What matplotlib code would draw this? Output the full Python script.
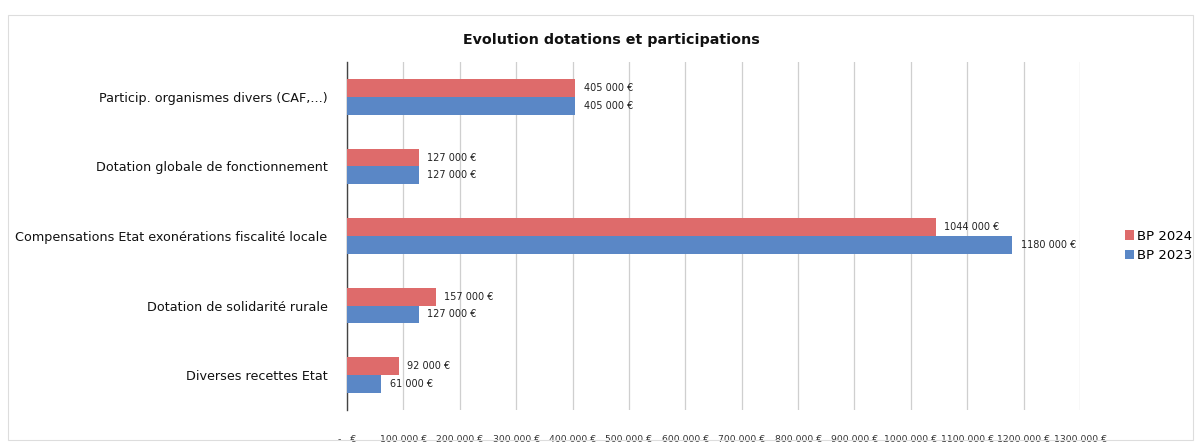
import matplotlib
matplotlib.use("Agg")
import matplotlib.pyplot as plt
import numpy as np

categories = ["Particip. organismes divers (CAF,...)",
              "Dotation globale de fonctionnement",
              "Compensations Etat exonérations fiscalité locale",
              "Dotation de solidarité rurale",
              "Diverses recettes Etat"]
bp2024 = [405000, 127000, 1044000, 157000, 92000]
bp2023 = [405000, 127000, 1180000, 127000, 61000]
xticks = list(range(0, 1300001, 100000))

def lab(v):
    s = f"{v:,}".replace(",", " ")
    if v >= 1000000:
        s = s.replace(" ", "", 1)
    return s + " €"

def fmt(v):
    if v == 0:
        return "-   €"
    return lab(v)

c24 = "#DE6B6B"
c23 = "#5A87C6"

fig = plt.figure(figsize=(11.98, 4.43), dpi=100)
ax = fig.add_axes([347/1198, 1 - 410/443, (1080-347)/1198, (410-62)/443])

n = len(categories)
y = np.arange(n)
h = 0.255
ax.barh(y - h/2, bp2024, height=h, color=c24, label="BP 2024", zorder=3)
ax.barh(y + h/2, bp2023, height=h, color=c23, label="BP 2023", zorder=3)

for i in range(n):
    ax.text(bp2024[i] + 15000, y[i] - h/2, lab(bp2024[i]), va="center", ha="left",
            fontsize=7, color="#222222", zorder=4)
    ax.text(bp2023[i] + 15000, y[i] + h/2, lab(bp2023[i]), va="center", ha="left",
            fontsize=7, color="#222222", zorder=4)

ax.set_ylim(n - 0.5, -0.5)
ax.set_xlim(0, 1300000)
ax.set_yticks(y)
ax.set_yticklabels(categories, fontsize=9.2, color="#111111")
ax.set_xticks(xticks)
ax.set_xticklabels([fmt(v) for v in xticks], fontsize=6.7, color="#333333")
ax.tick_params(axis="both", length=0)
ax.tick_params(axis="y", pad=14)
ax.tick_params(axis="x", pad=18)
ax.grid(axis="x", color="#CFCFCF", linewidth=0.9, zorder=0)
for s in ["top", "right", "bottom"]:
    ax.spines[s].set_visible(False)
ax.spines["left"].set_color("#444444")
ax.spines["left"].set_linewidth(1.0)

fig.text(611/1198, 1 - 40/443, "Evolution dotations et participations", ha="center",
         va="center", fontsize=10.3, fontweight="bold", color="#111111")

handles, labels = ax.get_legend_handles_labels()
fig.legend(handles, labels, loc="center left", bbox_to_anchor=(1113/1198, 1 - 246/443),
           frameon=False, fontsize=9.5, handlelength=0.7, handleheight=0.7,
           handletextpad=0.2, labelspacing=0.5)

# outer chart frame
fig.add_artist(plt.Rectangle((8/1198, 1 - 440/443), 1185/1198, 425/443,
                             transform=fig.transFigure, fill=False,
                             edgecolor="#DDDDDD", linewidth=0.8))

fig.savefig("out.png", dpi=100)
